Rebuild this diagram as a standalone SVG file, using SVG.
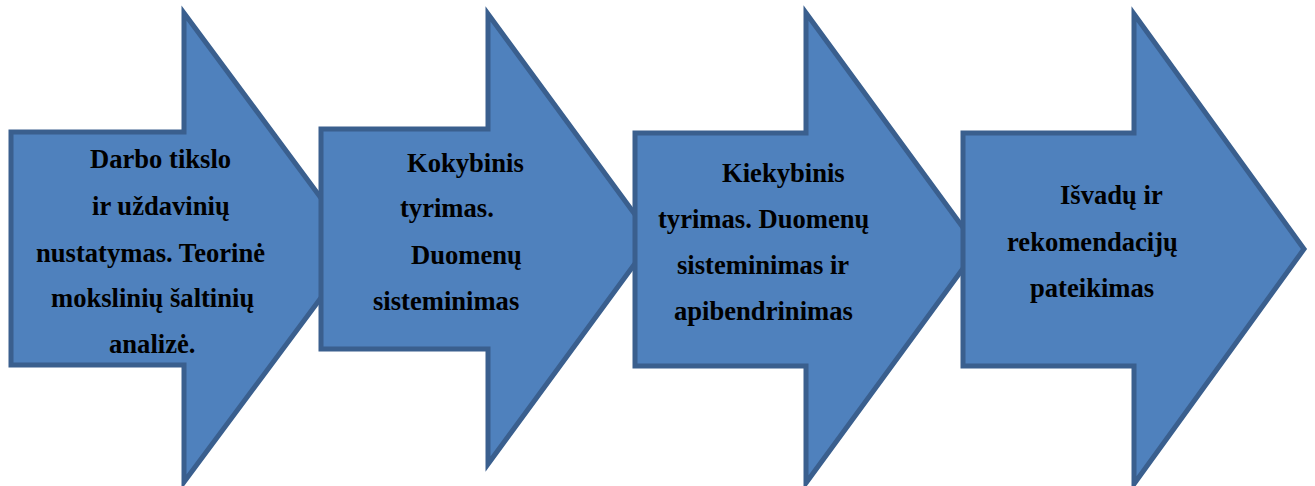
<svg xmlns="http://www.w3.org/2000/svg" width="1315" height="486" viewBox="0 0 1315 486">
  <style>
    .step { fill: #4F81BD; stroke: #3A5F8E; stroke-width: 5; stroke-linejoin: miter; stroke-miterlimit: 10; }
    .lbl { font-family: "Liberation Serif", "Times New Roman", serif; font-weight: bold; font-size: 26.6px; fill: #000000; }
  </style>
  <rect width="1315" height="486" fill="#ffffff"/>

  <g id="step1">
    <polygon class="step" points="11,132 184,132 184,13 358,248 184,482 184,365 11,365"/>
    <text class="lbl" x="90" y="168">Darbo tikslo</text>
    <text class="lbl" x="92" y="215">ir uždavinių</text>
    <text class="lbl" x="36" y="262">nustatymas. Teorinė</text>
    <text class="lbl" x="51" y="307">mokslinių šaltinių</text>
    <text class="lbl" x="109" y="353">analizė.</text>
  </g>

  <g id="step2">
    <polygon class="step" points="321,129 488,129 488,14 653,239 488,464 488,349 321,349"/>
    <text class="lbl" x="407" y="172">Kokybinis</text>
    <text class="lbl" x="400" y="217">tyrimas.</text>
    <text class="lbl" x="411" y="264">Duomenų</text>
    <text class="lbl" x="373" y="310">sisteminimas</text>
  </g>

  <g id="step3">
    <polygon class="step" points="635,133 806,133 806,13 978,248 806,483 806,366 635,366"/>
    <text class="lbl" x="722" y="182">Kiekybinis</text>
    <text class="lbl" x="658" y="228">tyrimas. Duomenų</text>
    <text class="lbl" x="677" y="274">sisteminimas ir</text>
    <text class="lbl" x="674" y="320">apibendrinimas</text>
  </g>

  <g id="step4">
    <polygon class="step" points="963,133 1134,133 1134,14 1304,249 1134,484 1134,366 963,366"/>
    <text class="lbl" x="1060" y="204">Išvadų ir</text>
    <text class="lbl" x="1007" y="251">rekomendacijų</text>
    <text class="lbl" x="1030" y="297">pateikimas</text>
  </g>

  <g id="connectors"></g>
</svg>
